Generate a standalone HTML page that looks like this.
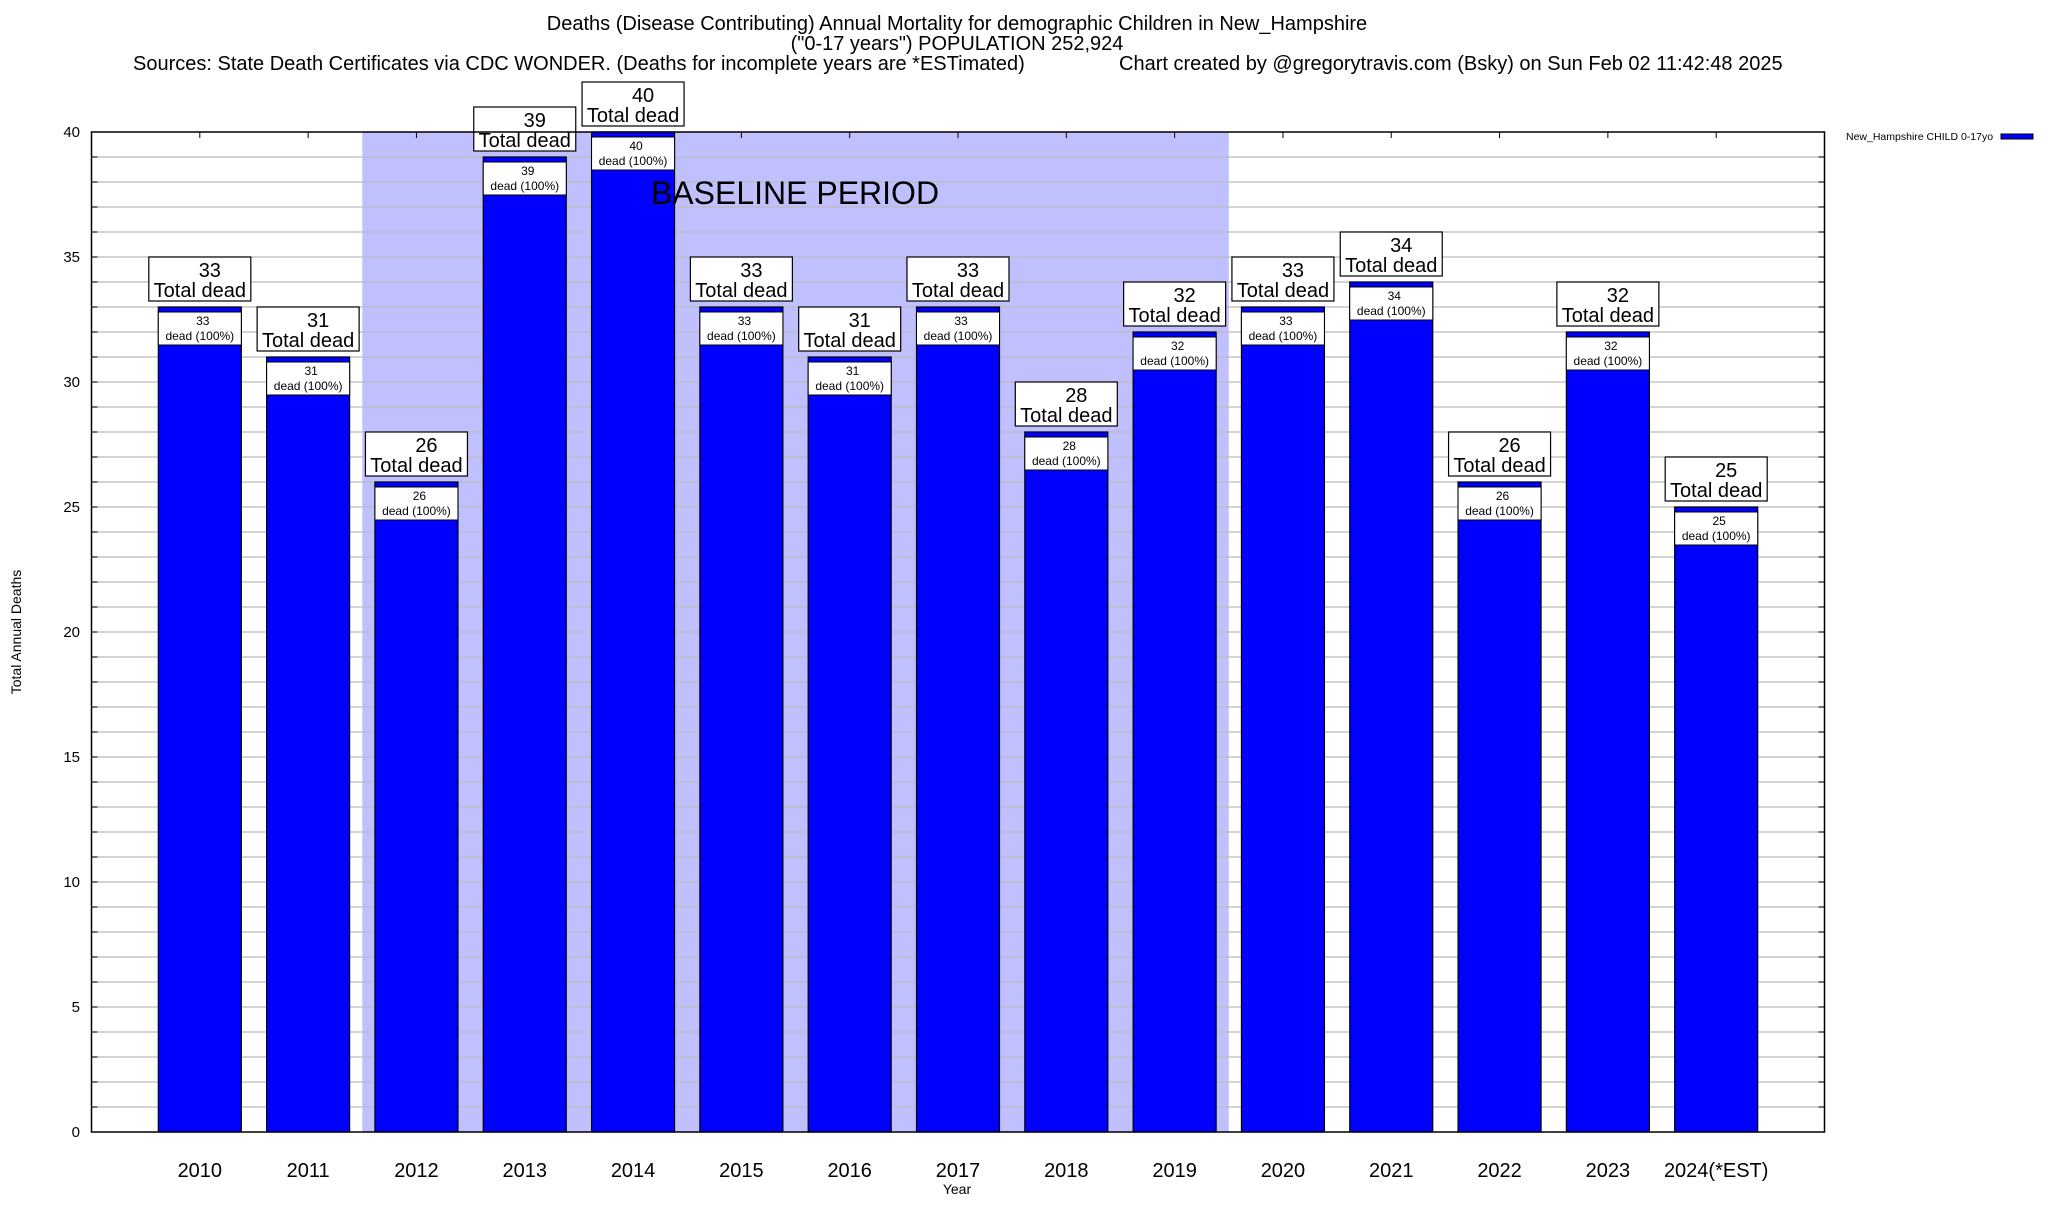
<!DOCTYPE html>
<html><head><meta charset="utf-8"><style>
body{margin:0;background:#fff;width:2048px;height:1200px;overflow:hidden;font-family:"Liberation Sans",sans-serif}
svg text{font-family:"Liberation Sans",sans-serif}
</style></head><body>
<svg id="chart" width="2048" height="1200" viewBox="0 0 2048 1200" xmlns="http://www.w3.org/2000/svg">
<text x="957" y="30" font-size="20" text-anchor="middle">Deaths (Disease Contributing) Annual Mortality for demographic Children in New_Hampshire</text>
<text x="957" y="50" font-size="20" text-anchor="middle">("0-17 years") POPULATION 252,924</text>
<text x="133" y="70" font-size="20">Sources: State Death Certificates via CDC WONDER. (Deaths for incomplete years are *ESTimated)</text>
<text x="1119" y="70" font-size="20">Chart created by @gregorytravis.com (Bsky) on Sun Feb 02 11:42:48 2025</text>
<g id="plot"></g>
<text transform="translate(21,632) rotate(-90)" font-size="14" text-anchor="middle">Total Annual Deaths</text>
<text x="957" y="1194" font-size="14" text-anchor="middle">Year</text>
<text x="1846" y="140" font-size="10.5">New_Hampshire CHILD 0-17yo</text>
<rect x="2001" y="134" width="32" height="5" fill="#0000ff" stroke="#000" stroke-width="1"/>
</svg>
<script>
const categories=["2010","2011","2012","2013","2014","2015","2016","2017","2018","2019","2020","2021","2022","2023","2024(*EST)"];
const deaths=[33,31,26,39,40,33,31,33,28,32,33,34,26,32,25];
const yTicks=[0,5,10,15,20,25,30,35,40];
const baselineRange=[2012,2019];

const NS="http://www.w3.org/2000/svg";
const L=91.5,R=1824.5,T=132,B=1132,yMax=40;
const n=categories.length;
const step=(R-L)/(n+1);
const xc=i=>L+step*(i+1);
const y=v=>B-(B-T)*v/yMax;
const bw=83;
const g=document.getElementById('plot');
function mk(tag,attrs,parent){const e=document.createElementNS(NS,tag);for(const k in attrs)e.setAttribute(k,attrs[k]);(parent||g).appendChild(e);return e;}

const bi0=categories.indexOf(String(baselineRange[0])),bi1=categories.indexOf(String(baselineRange[1]));
const sh=mk('rect',{x:xc(bi0)-step/2,y:T,width:(bi1-bi0+1)*step,height:B-T,fill:'#c0c0ff'});


for(let v=1;v<yMax;v++){
  const gl=mk('line',{x1:L,x2:R,y1:y(v),y2:y(v),stroke:'#bbb','stroke-width':1.3});
  
  
  mk('line',{x1:L,x2:L+6,y1:y(v),y2:y(v),stroke:'#000'});
  mk('line',{x1:R-6,x2:R,y1:y(v),y2:y(v),stroke:'#000'});
}
yTicks.forEach(v=>{
  const t=mk('text',{x:80,y:y(v)+5,'font-size':15,'text-anchor':'end'});
  t.textContent=v;
  
  
});
categories.forEach((c,i)=>{
  const v=deaths[i],cx=xc(i),top=y(v);
  mk('line',{x1:cx,x2:cx,y1:T,y2:T+6,stroke:'#000'});
  const b=mk('rect',{x:cx-bw/2,y:top,width:bw,height:B-top,fill:'#0000ff',stroke:'#000','stroke-width':1.2});
  
  
  const ib=mk('rect',{x:cx-bw/2,y:top+5,width:bw,height:33,fill:'#fff',stroke:'#000','stroke-width':1});
  
  
  const t1=mk('text',{x:cx+3,y:top+18,'font-size':12,'text-anchor':'middle'});t1.textContent=v;
  const t2=mk('text',{x:cx,y:top+33,'font-size':12,'text-anchor':'middle'});t2.textContent='dead (100%)';
  const ob=mk('rect',{x:cx-51,y:top-50,width:102,height:44,fill:'#fff',stroke:'#000','stroke-width':1.2});
  
  
  const t3=mk('text',{x:cx+10,y:top-30,'font-size':20,'text-anchor':'middle'});t3.textContent=v;
  const t4=mk('text',{x:cx,y:top-10,'font-size':20,'text-anchor':'middle'});t4.textContent='Total dead';
  const xl=mk('text',{x:cx,y:1177,'font-size':20,'text-anchor':'middle'});xl.textContent=c;
  
  
});
const bt=mk('text',{x:795,y:204,'font-size':32,'text-anchor':'middle'});
bt.textContent='BASELINE PERIOD';


const fr=mk('rect',{x:L,y:T,width:R-L,height:B-T,fill:'none',stroke:'#000','stroke-width':1.5});


</script>
</body></html>
